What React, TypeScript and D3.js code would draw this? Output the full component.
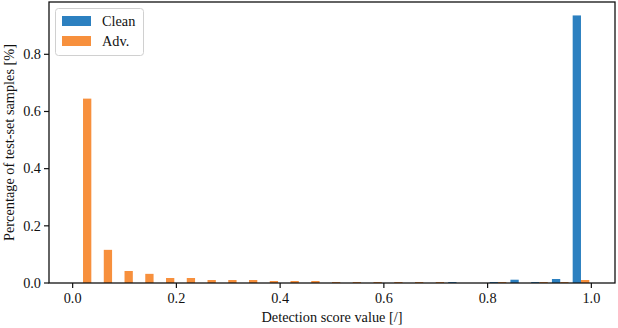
import React from "react";
import * as d3 from "d3";

// histogram bins (left edges), width 0.04
const binStarts = [
  0.0, 0.04, 0.08, 0.12, 0.16, 0.2, 0.24, 0.28, 0.32, 0.36, 0.4, 0.44, 0.48,
  0.52, 0.56, 0.6, 0.64, 0.68, 0.72, 0.76, 0.8, 0.84, 0.88, 0.92, 0.96,
];
const binWidth = 0.04;

// fraction of samples per bin
const cleanValues = [
  0, 0, 0, 0, 0, 0, 0, 0, 0, 0, 0, 0, 0, 0, 0, 0, 0, 0, 0.0035, 0, 0.0035,
  0.0115, 0.0035, 0.014, 0.936,
];
const advValues = [
  0.645, 0.116, 0.042, 0.032, 0.0175, 0.0175, 0.0105, 0.0105, 0.0105, 0.007,
  0.007, 0.007, 0.0035, 0.0035, 0.0035, 0.0035, 0.0035, 0.0035, 0, 0, 0.0035,
  0, 0.0035, 0.0035, 0.0105,
];

const seriesNames = ["Clean", "Adv."];
const seriesColors = ["#2c80c0", "#f7903d"];

const xTicks = [0, 0.2, 0.4, 0.6, 0.8, 1.0];
const yTicks = [0, 0.2, 0.4, 0.6, 0.8];

const xLabel = "Detection score value [/]";
const yLabel = "Percentage of test-set samples [%]";

export default function App() {
  const width = 618;
  const height = 328;
  const plot = { left: 49, right: 615, top: 2, bottom: 283 };

  const x = d3.scaleLinear().domain([-0.0456, 1.0456]).range([plot.left, plot.right]);
  const y = d3.scaleLinear().domain([0, 0.983]).range([plot.bottom, plot.top]);
  const fmt = d3.format(".1f");

  const font = "'Liberation Serif', 'DejaVu Serif', serif";
  const fontSize = 14.3;

  const series = [cleanValues, advValues];
  const barW = x(0.4 * binWidth) - x(0);

  return (
    <svg
      width={width}
      height={height}
      style={{ position: "fixed", left: 0, top: 0, background: "white" }}
      fontFamily={font}
      fontSize={fontSize}
    >
      <rect width={width} height={height} fill="white" />

      {/* bars: two datasets side by side in each bin */}
      {series.map((vals, s) =>
        vals.map((v, i) => {
          if (v <= 0) return null;
          const x0 = x(binStarts[i] + binWidth * (0.1 + 0.4 * s));
          return (
            <rect
              key={`${s}-${i}`}
              x={x0}
              y={y(v)}
              width={barW}
              height={y(0) - y(v)}
              fill={seriesColors[s]}
            />
          );
        })
      )}

      {/* frame */}
      <rect
        x={plot.left}
        y={plot.top}
        width={plot.right - plot.left}
        height={plot.bottom - plot.top}
        fill="none"
        stroke="#111"
        strokeWidth={1.3}
      />

      {/* x axis */}
      {xTicks.map((t) => (
        <g key={`x${t}`} transform={`translate(${x(t)},${plot.bottom})`}>
          <line y1={0} y2={5} stroke="#111" strokeWidth={1.2} />
          <text y={20} textAnchor="middle" fill="#111">
            {fmt(t)}
          </text>
        </g>
      ))}
      <text
        x={(plot.left + plot.right) / 2}
        y={322}
        textAnchor="middle"
        fill="#111"
      >
        {xLabel}
      </text>

      {/* y axis */}
      {yTicks.map((t) => (
        <g key={`y${t}`} transform={`translate(${plot.left},${y(t)})`}>
          <line x1={0} x2={-5} stroke="#111" strokeWidth={1.2} />
          <text x={-8} dy="0.33em" textAnchor="end" fill="#111">
            {fmt(t)}
          </text>
        </g>
      ))}
      <text
        transform={`translate(14,${(plot.top + plot.bottom) / 2}) rotate(-90)`}
        textAnchor="middle"
        fill="#111"
      >
        {yLabel}
      </text>

      {/* legend */}
      <g>
        <rect
          x={55.5}
          y={8.5}
          width={88}
          height={47}
          rx={3}
          fill="white"
          fillOpacity={0.8}
          stroke="#d0d0d0"
          strokeWidth={1}
        />
        {seriesNames.map((name, i) => (
          <g key={name} transform={`translate(62,${16 + i * 20})`}>
            <rect width={29} height={10} fill={seriesColors[i]} />
            <text x={40} y={10} fill="#111">
              {name}
            </text>
          </g>
        ))}
      </g>
    </svg>
  );
}
